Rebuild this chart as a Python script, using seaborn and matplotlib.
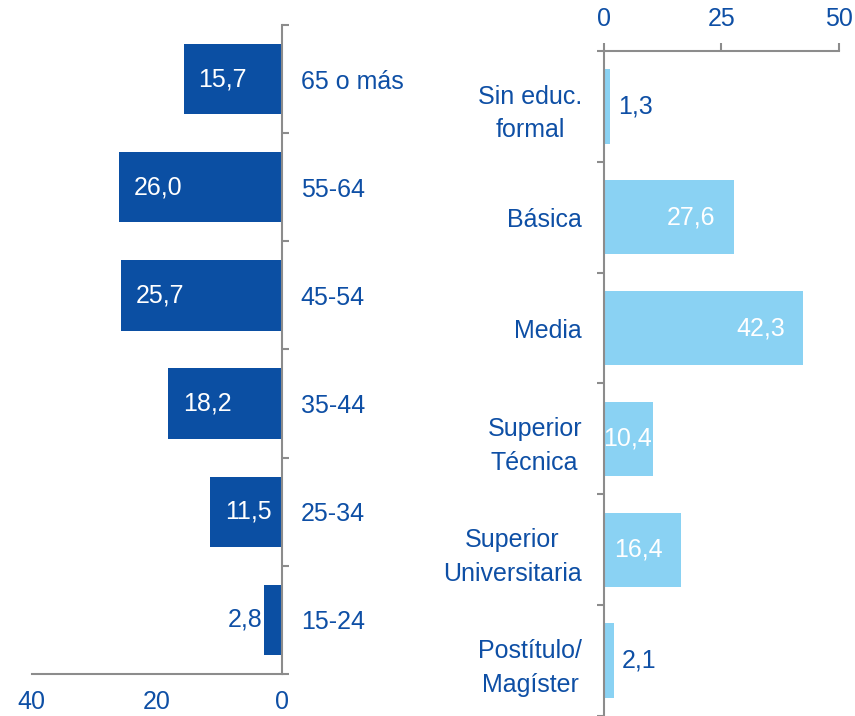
import matplotlib
matplotlib.use("Agg")
import matplotlib.pyplot as plt
import seaborn as sns

# ===========================================
# DATA
# ===========================================
age_groups = ["65 o más", "55-64", "45-54", "35-44", "25-34", "15-24"]
age_values = [15.7, 26.0, 25.7, 18.2, 11.5, 2.8]

edu_groups = ["Sin educ.\nformal", "Básica", "Media", "Superior\nTécnica",
              "Superior\nUniversitaria", "Postítulo/\nMagíster"]
edu_values = [1.3, 27.6, 42.3, 10.4, 16.4, 2.1]

age_ticks = [40, 20, 0]
edu_ticks = [0, 25, 50]

# ===========================================
# STYLE
# ===========================================
sns.set_style("white")
plt.rcParams["font.family"] = ["Liberation Sans", "DejaVu Sans"]

DARK = "#0B4FA3"
LIGHT = "#8AD2F3"
TXT = "#0E4FA5"
GRAY = "#8C8C8C"
FS = 18
PX = 0.72  # points per pixel at dpi 100

fig = plt.figure(figsize=(8.55, 7.16), dpi=100)
ax1 = fig.add_axes([0.0371, 0.0587, 0.2924, 0.9064])
ax2 = fig.add_axes([0.7064, 0.0, 0.2749, 0.9288])

# ===========================================
# LEFT: AGE GROUPS
# ===========================================
sns.barplot(x=age_values, y=age_groups, color=DARK, saturation=1,
            width=0.65, linewidth=0, orient="h", ax=ax1)
ax1.set_xlim(40, 0)
ax1.set_ylim(5.5, -0.5)
ax1.set_xticks(age_ticks)
ax1.set_xticklabels([str(t) for t in age_ticks])
ax1.yaxis.tick_right()
ax1.set_yticks(range(len(age_groups)))
ax1.set_yticklabels(age_groups)
ax1.set_yticks([i - 0.5 for i in range(len(age_groups) + 1)], minor=True)
ax1.tick_params(axis="y", which="major", length=0, pad=19 * PX,
                labelsize=FS, labelcolor=TXT)
ax1.tick_params(axis="y", which="minor", length=7 * PX, width=1.5,
                color=GRAY, direction="out", right=True, left=False)
ax1.tick_params(axis="x", length=8 * PX, width=1.5, color=GRAY,
                direction="out", pad=8 * PX, labelsize=FS, labelcolor=TXT)
for s in ["top", "left"]:
    ax1.spines[s].set_visible(False)
for s in ["right", "bottom"]:
    ax1.spines[s].set_color(GRAY)
    ax1.spines[s].set_linewidth(1.5)
ax1.set_xlabel("")
ax1.set_ylabel("")

for i, v in enumerate(age_values):
    lab = f"{v:.1f}".replace(".", ",")
    if v < 5:
        ax1.annotate(lab, xy=(v, i), xytext=(-1.5 * PX, 0), textcoords="offset points",
                     ha="right", va="center", fontsize=FS, color=TXT)
    else:
        ax1.annotate(lab, xy=(v, i), xytext=(15 * PX, 0), textcoords="offset points",
                     ha="left", va="center", fontsize=FS, color="white")

# ===========================================
# RIGHT: EDUCATION
# ===========================================
sns.barplot(x=edu_values, y=edu_groups, color=LIGHT, saturation=1,
            width=0.67, linewidth=0, orient="h", ax=ax2)
ax2.set_xlim(0, 50)
ax2.set_ylim(5.5, -0.5)
ax2.xaxis.tick_top()
ax2.set_xticks(edu_ticks)
ax2.set_xticklabels([str(t) for t in edu_ticks])
ax2.set_yticks(range(len(edu_groups)))
ax2.set_yticklabels(edu_groups)
for t in ax2.get_yticklabels():
    t.set_multialignment("center")
    t.set_linespacing(1.5)
ax2.set_yticks([i - 0.5 for i in range(len(edu_groups) + 1)], minor=True)
ax2.tick_params(axis="y", which="major", length=0, pad=22 * PX,
                labelsize=FS, labelcolor=TXT)
ax2.tick_params(axis="y", which="minor", length=7 * PX, width=1.5,
                color=GRAY, direction="out", left=True)
ax2.tick_params(axis="x", length=8 * PX, width=1.5, color=GRAY,
                direction="out", pad=12 * PX, labelsize=FS, labelcolor=TXT)
for s in ["bottom", "right"]:
    ax2.spines[s].set_visible(False)
for s in ["left", "top"]:
    ax2.spines[s].set_color(GRAY)
    ax2.spines[s].set_linewidth(1.5)
ax2.set_xlabel("")
ax2.set_ylabel("")

px_per_unit = 235 / 50
for i, v in enumerate(edu_values):
    lab = f"{v:.1f}".replace(".", ",")
    if v < 5:
        ax2.annotate(lab, xy=(v, i), xytext=(8 * PX, 0), textcoords="offset points",
                     ha="left", va="center", fontsize=FS, color=TXT)
    else:
        # inside end, but never pushed past the axis line
        off = max(-18, 48 - v * px_per_unit)
        ax2.annotate(lab, xy=(v, i), xytext=(off * PX, 0), textcoords="offset points",
                     ha="right", va="center", fontsize=FS, color="white")

fig.savefig("out.png", dpi=100)
plt.close()
